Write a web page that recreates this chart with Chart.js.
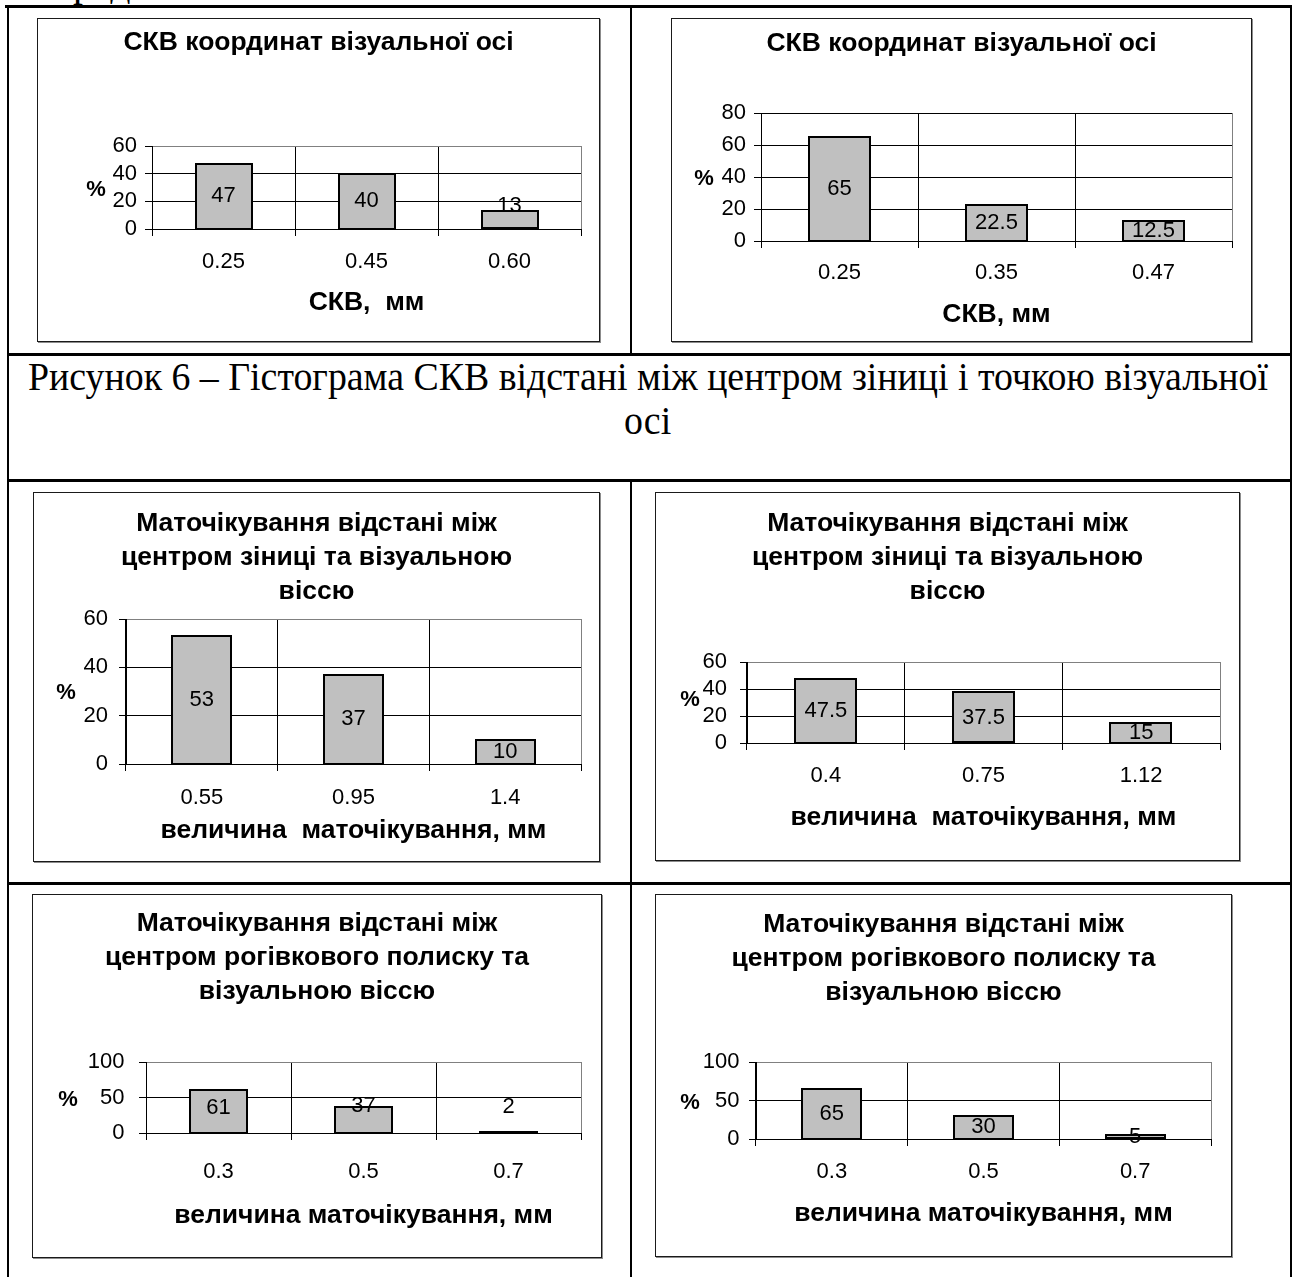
<!DOCTYPE html>
<html lang="uk">
<head>
<meta charset="utf-8">
<title>Гістограми СКВ і маточікування</title>
<script src="https://cdn.jsdelivr.net/npm/chart.js@4.4.1/dist/chart.umd.min.js"></script>
<style>
  html, body { margin: 0; padding: 0; background: #fff; }
  body { width: 1292px; height: 1277px; position: relative; overflow: hidden; }
  .rule { position: absolute; background: #000; }
  .frame { position: absolute; box-sizing: border-box; border: 1px solid #1a1a1a; box-shadow: 1px 1px 0 #8c8c8c; background: #fff; }
  canvas { position: absolute; }
  .serif { position: absolute; font-family: "Liberation Serif", "Times New Roman", serif; font-size: 40px; line-height: 44px; white-space: nowrap; color: #000; transform-origin: 0 0; }
</style>
</head>
<body>
<div class="serif" id="prev" style="left:28px; top:-39px;">Середні</div>
<div class="serif" id="cap1" style="left:28px; top:355px;">Рисунок 6 – Гістограма СКВ відстані між центром зіниці і точкою візуальної</div>
<div class="serif" id="cap2" style="top:399px;">осі</div>
<script>
// ---- values of the six histograms ----
const skvCats1 = ['0.25', '0.45', '0.60'];
const skvVals1 = [47, 40, 13];
const skvCats2 = ['0.25', '0.35', '0.47'];
const skvVals2 = [65, 22.5, 12.5];
const pupilCats1 = ['0.55', '0.95', '1.4'];
const pupilVals1 = [53, 37, 10];
const pupilCats2 = ['0.4', '0.75', '1.12'];
const pupilVals2 = [47.5, 37.5, 15];
const glintCats1 = ['0.3', '0.5', '0.7'];
const glintVals1 = [61, 37, 2];
const glintCats2 = ['0.3', '0.5', '0.7'];
const glintVals2 = [65, 30, 5];

const yMaxes = [60, 80, 60, 60, 100, 100];
const ySteps = [20, 20, 20, 20, 50, 50];

const titleSkv = ['СКВ координат візуальної осі'];
const titlePupil = ['Маточікування відстані між', 'центром зіниці та візуальною', 'віссю'];
const titleGlint = ['Маточікування відстані між', 'центром рогівкового полиску та', 'візуальною віссю'];
const axisNames = ['СКВ,  мм', 'СКВ, мм', 'величина  маточікування, мм', 'величина  маточікування, мм',
                   'величина маточікування, мм', 'величина маточікування, мм'];
const unitLabel = '%';

const series = [
  { cats: skvCats1, vals: skvVals1, title: titleSkv },
  { cats: skvCats2, vals: skvVals2, title: titleSkv },
  { cats: pupilCats1, vals: pupilVals1, title: titlePupil },
  { cats: pupilCats2, vals: pupilVals2, title: titlePupil },
  { cats: glintCats1, vals: glintVals1, title: titleGlint },
  { cats: glintCats2, vals: glintVals2, title: titleGlint }
];

// ---- page geometry: chart frame, plot area and text rows (page pixels) ----
const frames = [
  { box: [37, 18, 600, 342],    plot: [152, 146, 581, 229],   titleY: 43,  pct: [96, 190],   tickY: 262,   axisY: 302.5,  yPad: 8,    shift: [0, 0, -13.5], topGrid: '#808080' },
  { box: [671, 18, 1252, 342],  plot: [761, 113, 1232, 241],  titleY: 44,  pct: [704, 179],  tickY: 273,   axisY: 315,    yPad: 8,    shift: [0, 0, 0],     topGrid: '#000000' },
  { box: [33, 492, 600, 862],   plot: [126, 619, 581, 764],   titleY: 524, pct: [66, 693],   tickY: 797.5, axisY: 830.5,  yPad: 11,   shift: [0, 0, 0],     topGrid: '#808080' },
  { box: [655, 492, 1240, 861], plot: [747, 662, 1220, 743],  titleY: 524, pct: [690, 700],  tickY: 775.5, axisY: 818,    yPad: 13,   shift: [0, 0, 0],     topGrid: '#808080' },
  { box: [32, 894, 602, 1258],  plot: [146, 1062, 581, 1133], titleY: 924, pct: [68, 1100],  tickY: 1171.5,axisY: 1215.5, yPad: 14.5, shift: [-3, -14, -25],topGrid: '#808080' },
  { box: [655, 894, 1232, 1257],plot: [756, 1062, 1211, 1139],titleY: 925, pct: [690, 1103], tickY: 1171.5,axisY: 1214,   yPad: 9.5,  shift: [0, 0, 0],     topGrid: '#808080' }
];

// ---- table rules ----
const rules = [
  [5, 5, 1287, 3], [7, 5, 2, 1272], [1290, 5, 2, 1272],
  [630, 5, 2, 351], [630, 479, 2, 798],
  [7, 353, 1285, 3], [7, 479, 1285, 3], [7, 882, 1285, 3]
];
rules.forEach(([x, y, w, h]) => {
  const d = document.createElement('div');
  d.className = 'rule';
  Object.assign(d.style, { left: x + 'px', top: y + 'px', width: w + 'px', height: h + 'px' });
  document.body.appendChild(d);
});

// ---- caption fitted to the table cell ----
(function fitCaption() {
  const c1 = document.getElementById('cap1');
  const c2 = document.getElementById('cap2');
  const w1 = c1.getBoundingClientRect().width;
  const sx = 1240 / w1;
  c1.style.transform = 'scaleX(' + sx + ')';
  const w2 = c2.getBoundingClientRect().width * sx;
  c2.style.left = (648 - w2 / 2) + 'px';
  c2.style.transform = 'scaleX(' + sx + ')';
})();

const SANS = '"Liberation Sans", Arial, sans-serif';
const TITLE_SIZE = 26.5;
const TITLE_LH = 34;
const TICK_SIZE = 22;
const TICK_LEN = 7;

// black outline of every bar, stroked on the bar edges so thin bars stay visible
const barOutline = {
  id: 'barOutline',
  afterDatasetsDraw(chart) {
    const ctx = chart.ctx;
    const meta = chart.getDatasetMeta(0);
    ctx.save();
    ctx.strokeStyle = '#000';
    ctx.lineWidth = 2;
    meta.data.forEach(bar => {
      const p = bar.getProps(['x', 'y', 'base', 'width'], true);
      const left = p.x - p.width / 2;
      const top = Math.min(p.y, p.base);
      const h = Math.abs(p.base - p.y);
      ctx.strokeRect(Math.round(left), Math.round(top), Math.round(p.width), Math.round(h));
    });
    ctx.restore();
  }
};

// value written on each bar
const valueLabels = {
  id: 'valueLabels',
  afterDatasetsDraw(chart, args, opts) {
    const ctx = chart.ctx;
    const meta = chart.getDatasetMeta(0);
    const vals = chart.data.datasets[0].data;
    ctx.save();
    ctx.font = TICK_SIZE + 'px ' + SANS;
    ctx.fillStyle = '#000';
    ctx.textAlign = 'center';
    ctx.textBaseline = 'middle';
    meta.data.forEach((bar, k) => {
      const y = (bar.y + bar.base) / 2 + ((opts.shift && opts.shift[k]) || 0);
      ctx.fillText(String(vals[k]), bar.x, y);
    });
    ctx.restore();
  }
};

// unit sign beside the value axis
const unitSign = {
  id: 'unitSign',
  afterDraw(chart, args, opts) {
    const ctx = chart.ctx;
    ctx.save();
    ctx.font = 'bold ' + TICK_SIZE + 'px ' + SANS;
    ctx.fillStyle = '#000';
    ctx.textAlign = 'center';
    ctx.textBaseline = 'middle';
    ctx.fillText(opts.text, opts.x, opts.y);
    ctx.restore();
  }
};

series.forEach((s, i) => {
  const f = frames[i];
  const [bl, bt, br, bb] = f.box;
  const [pl, pt, pr, pb] = f.plot;
  const W = br - bl, H = bb - bt;

  const frame = document.createElement('div');
  frame.className = 'frame';
  Object.assign(frame.style, { left: bl + 'px', top: bt + 'px', width: W + 'px', height: H + 'px' });
  document.body.appendChild(frame);

  const cv = document.createElement('canvas');
  cv.width = W; cv.height = H;
  Object.assign(cv.style, { left: bl + 'px', top: bt + 'px', width: W + 'px', height: H + 'px' });
  document.body.appendChild(cv);

  const lines = s.title.length;
  const titlePadTop = f.titleY - bt - TITLE_LH / 2;
  const titlePadBottom = (pt - bt) - titlePadTop - TITLE_LH * lines;
  const tickLH = TICK_SIZE * 1.2;
  const axisLH = TITLE_SIZE * 1.2;

  new Chart(cv, {
    type: 'bar',
    data: {
      labels: s.cats,
      datasets: [{
        data: s.vals,
        backgroundColor: '#c0c0c0',
        borderWidth: 0,
        barPercentage: 0.39,
        categoryPercentage: 1
      }]
    },
    options: {
      responsive: false,
      animation: false,
      devicePixelRatio: 1,
      events: [],
      layout: { padding: 0, autoPadding: false },
      plugins: {
        legend: { display: false },
        tooltip: { enabled: false },
        title: {
          display: true,
          text: s.title,
          color: '#000',
          font: { family: SANS, size: TITLE_SIZE, weight: 'bold', lineHeight: TITLE_LH + 'px' },
          padding: { top: titlePadTop, bottom: titlePadBottom }
        },
        valueLabels: { shift: f.shift },
        unitSign: { text: unitLabel, x: f.pct[0] - bl, y: f.pct[1] - bt }
      },
      scales: {
        x: {
          grid: {
            offset: true,
            color: ctx => (ctx.type === 'tick' ? '#000' : '#808080'),
            lineWidth: 1,
            tickLength: TICK_LEN,
            tickColor: '#000'
          },
          border: { color: '#000', width: 1 },
          ticks: {
            color: '#000',
            font: { family: SANS, size: TICK_SIZE },
            padding: f.tickY - pb - TICK_LEN - tickLH / 2,
            maxRotation: 0,
            autoSkip: false
          },
          title: {
            display: true,
            text: axisNames[i],
            color: '#000',
            font: { family: SANS, size: TITLE_SIZE, weight: 'bold' },
            padding: { top: 0, bottom: bb - f.axisY - axisLH / 2 }
          },
          afterFit: sc => { sc.height = bb - pb; }
        },
        y: {
          min: 0,
          max: yMaxes[i],
          ticks: {
            stepSize: ySteps[i],
            autoSkip: false,
            color: '#000',
            font: { family: SANS, size: TICK_SIZE },
            padding: f.yPad
          },
          grid: {
            color: ctx => (ctx.tick && ctx.tick.value === yMaxes[i] ? f.topGrid : '#000'),
            lineWidth: 1,
            tickLength: TICK_LEN,
            tickColor: '#000'
          },
          border: { color: '#000', width: 1 },
          afterFit: sc => { sc.width = pl - bl; }
        },
        gutter: {
          type: 'linear',
          position: 'right',
          display: true,
          grid: { display: false },
          border: { display: false },
          ticks: { display: false },
          afterFit: sc => { sc.width = br - pr; }
        }
      }
    },
    plugins: [barOutline, valueLabels, unitSign]
  });
});
</script>
</body>
</html>
